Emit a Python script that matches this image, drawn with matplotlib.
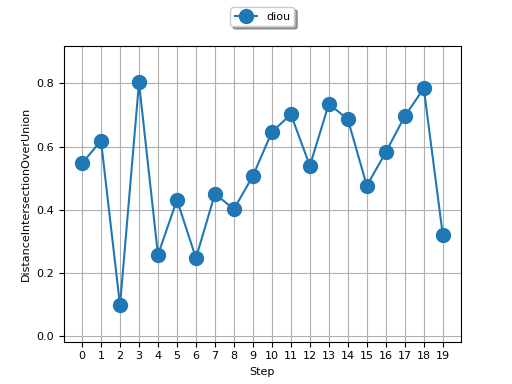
import matplotlib
matplotlib.use("Agg")
import matplotlib.pyplot as plt

plt.rcParams["font.size"] = 8

steps = list(range(20))
diou = [0.547, 0.618, 0.097, 0.803, 0.257, 0.431, 0.247, 0.450, 0.402, 0.507,
        0.646, 0.702, 0.539, 0.735, 0.686, 0.476, 0.582, 0.696, 0.784, 0.321]

fig, ax = plt.subplots(figsize=(5.12, 3.84), dpi=100)
ax.plot(steps, diou, marker="o", markersize=10, label="diou")
ax.set_xticks(steps)
ax.set_ylim(-0.018, 0.918)
ax.set_xlabel("Step")
ax.set_ylabel("DistanceIntersectionOverUnion")
ax.grid(True)
ax.legend(loc="upper center", bbox_to_anchor=(0.5, 1.15), shadow=True)
fig.savefig("out.png")
